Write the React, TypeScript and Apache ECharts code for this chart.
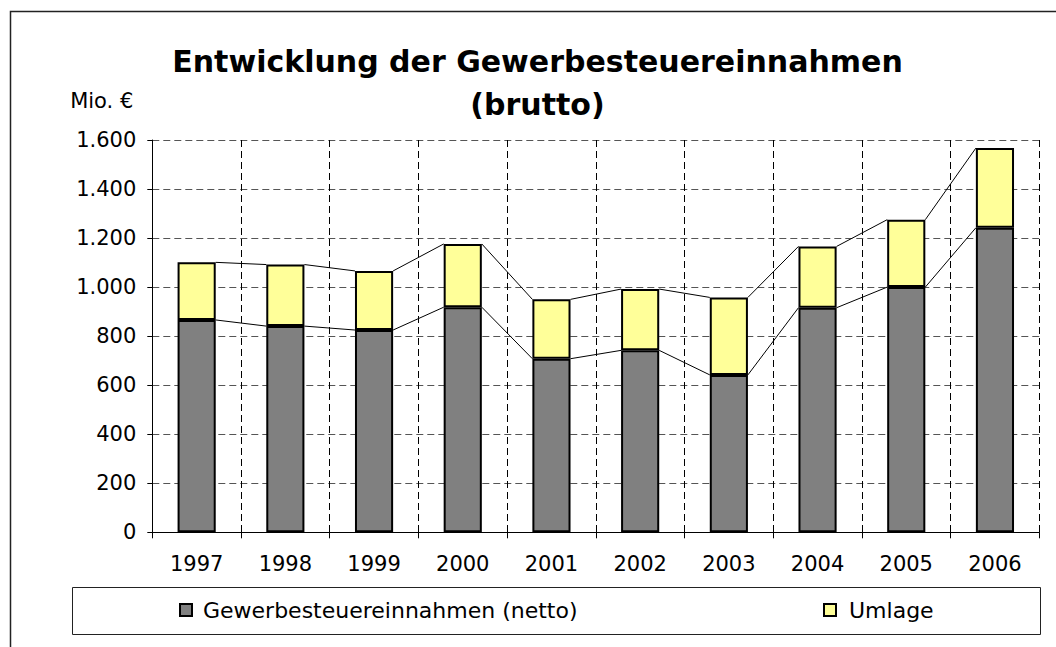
import React, { useEffect, useRef } from "react";
import * as echarts from "echarts";

const years = ["1997", "1998", "1999", "2000", "2001", "2002", "2003", "2004", "2005", "2006"];
const netto = [866, 841, 825, 918, 708, 742, 642, 916, 1000, 1242];
const umlage = [235, 251, 241, 258, 242, 250, 316, 250, 275, 325];
const yMin = 0;
const yMax = 1600;
const yStep = 200;

const seriesNames = ["Gewerbesteuereinnahmen (netto)", "Umlage"];
const titleText = "Entwicklung der Gewerbesteuereinnahmen\n(brutto)";
const unitText = "Mio. €";

const BAR_RATIO = 0.43;
const FONT = "DejaVu Sans";

const fmt = (v: number) => String(v).replace(/\B(?=(\d{3})+(?!\d))/g, ".");

export default function App() {
  const ref = useRef<HTMLDivElement>(null);

  useEffect(() => {
    if (!ref.current) return;
    const chart = echarts.init(ref.current, undefined, { renderer: "svg" });

    const totals = netto.map((n, i) => n + umlage[i]);
    const connectors = years.slice(0, -1).map((_, i) => [i, netto[i], totals[i], netto[i + 1], totals[i + 1]]);

    const option: any = {
      animation: false,
      backgroundColor: "#fff",
      title: {
        text: titleText,
        left: 537.5,
        textAlign: "center",
        top: 40,
        padding: 0,
        textStyle: { fontFamily: FONT, fontWeight: "bold", fontSize: 30, lineHeight: 43, color: "#000" },
      },
      grid: { left: 152.3, right: 16.7, top: 140, bottom: 114.7, containLabel: false },
      legend: [
        {
          data: [seriesNames[0]],
          left: 179,
          top: 599,
          padding: 0,
          icon: "rect",
          itemWidth: 12,
          itemHeight: 12,
          textStyle: { fontFamily: FONT, fontSize: 22, color: "#000", padding: [0, 0, 0, 6] },
        },
        {
          data: [seriesNames[1]],
          left: 823,
          top: 599,
          padding: 0,
          icon: "rect",
          itemWidth: 12,
          itemHeight: 12,
          textStyle: { fontFamily: FONT, fontSize: 22, color: "#000", padding: [0, 0, 0, 8] },
        },
      ],
      xAxis: {
        type: "category",
        data: years,
        boundaryGap: true,
        axisLine: { show: true, lineStyle: { color: "#000", width: 1 } },
        axisTick: { show: true, interval: 0, length: 6, lineStyle: { color: "#000" } },
        axisLabel: { interval: 0, margin: 21, fontFamily: FONT, fontSize: 21, color: "#000" },
        splitLine: { show: true, interval: 0, lineStyle: { color: "#000", width: 1, type: [7, 4] } },
      },
      yAxis: {
        type: "value",
        min: yMin,
        max: yMax,
        interval: yStep,
        name: unitText,
        nameLocation: "end",
        nameGap: 39.5,
        nameTextStyle: {
          fontFamily: FONT,
          fontSize: 21,
          color: "#000",
          align: "right",
          verticalAlign: "middle",
          padding: [0, 19, 0, 0],
        },
        axisLine: { show: true, lineStyle: { color: "#000", width: 1 } },
        axisTick: { show: true, length: 5, lineStyle: { color: "#000" } },
        axisLabel: { margin: 16, fontFamily: FONT, fontSize: 21, color: "#000", formatter: (v: number) => fmt(v) },
        splitLine: { show: true, lineStyle: { color: "#555", width: 1, type: [7, 4] } },
      },
      series: [
        {
          name: seriesNames[0],
          type: "bar",
          stack: "total",
          barWidth: BAR_RATIO * 100 + "%",
          data: netto,
          itemStyle: { color: "#808080", borderColor: "#000", borderWidth: 2 },
          z: 3,
        },
        {
          name: seriesNames[1],
          type: "bar",
          stack: "total",
          barWidth: BAR_RATIO * 100 + "%",
          data: umlage,
          itemStyle: { color: "#FFFF99", borderColor: "#000", borderWidth: 2 },
          z: 3,
        },
        {
          name: "Reihenlinien",
          type: "custom",
          silent: true,
          z: 2,
          encode: { x: 0, y: [1, 2, 3, 4] },
          data: connectors,
          renderItem: (_params: any, api: any) => {
            const i = api.value(0);
            const band = api.size([1, 0])[0];
            const half = (band * BAR_RATIO) / 2;
            const a1 = api.coord([i, api.value(1)]);
            const a2 = api.coord([i, api.value(2)]);
            const b1 = api.coord([i + 1, api.value(3)]);
            const b2 = api.coord([i + 1, api.value(4)]);
            const st = { stroke: "#000", lineWidth: 1 };
            return {
              type: "group",
              children: [
                { type: "line", shape: { x1: a1[0] + half, y1: a1[1], x2: b1[0] - half, y2: b1[1] }, style: st },
                { type: "line", shape: { x1: a2[0] + half, y1: a2[1], x2: b2[0] - half, y2: b2[1] }, style: st },
              ],
            };
          },
        },
      ],
      graphic: [
        {
          type: "rect",
          silent: true,
          shape: { x: 10.5, y: 11.5, width: 1200, height: 800 },
          style: { fill: "none", stroke: "#222", lineWidth: 1.5 },
        },
        {
          type: "rect",
          silent: true,
          z: -1,
          shape: { x: 72.5, y: 587.5, width: 968, height: 47 },
          style: { fill: "none", stroke: "#222", lineWidth: 1 },
        },
      ],
    };

    chart.setOption(option);
    return () => chart.dispose();
  }, []);

  return <div ref={ref} style={{ position: "absolute", left: 0, top: 0, width: 1056, height: 647 }} />;
}
